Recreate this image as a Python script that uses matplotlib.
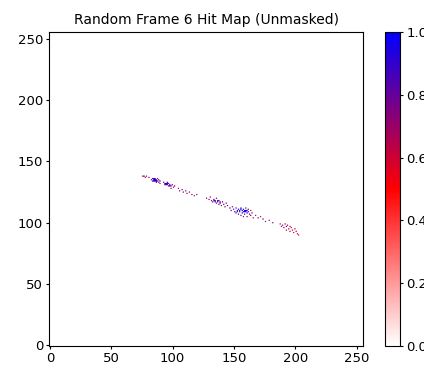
import numpy as np
import matplotlib
matplotlib.use('Agg')
import matplotlib.pyplot as plt
from matplotlib.colors import LinearSegmentedColormap

frame_id = 6
grid_size = 256

# hit pixels: column, row, normalised value
hit_x = [76, 77, 78, 79, 81,
         83, 84, 84, 85, 85, 86, 86, 87, 87, 88, 88, 89, 90, 90, 85, 86, 87, 89,
         93, 94, 94, 95, 96, 96, 97, 97, 98, 99, 99, 100, 101, 102, 95, 96, 98,
         105, 106, 108, 109, 111, 112, 114, 116, 118, 120,
         128, 130, 131, 132, 133, 134, 135, 136, 136, 137, 138, 138, 139, 140, 141, 142, 143, 144, 145,
         134, 135, 137, 139,
         147, 148, 149, 150, 151, 152, 152, 153, 154, 154, 155, 156, 156, 157, 157, 158, 158, 159, 159,
         160, 160, 161, 161, 162, 162, 163, 164, 164, 165, 166,
         153, 155, 156, 158, 159, 160, 161,
         168, 170, 172, 174, 176, 179, 182,
         188, 189, 190, 191, 192, 193, 193, 194, 195, 196, 196, 197, 198, 199, 200, 201, 202, 203]
hit_y = [138, 138, 137, 138, 137,
         135, 136, 134, 135, 136, 134, 135, 135, 133, 134, 136, 133, 134, 132, 134, 136, 134, 135,
         133, 132, 131, 132, 131, 133, 130, 132, 131, 130, 128, 131, 129, 130, 131, 132, 130,
         128, 126, 127, 125, 126, 124, 125, 123, 122, 123,
         120, 119, 121, 118, 117, 119, 118, 116, 120, 117, 118, 115, 116, 114, 117, 115, 113, 116, 114,
         118, 117, 118, 117,
         112, 110, 113, 111, 109, 112, 108, 110, 111, 107, 109, 112, 106, 110, 108, 111, 105, 109, 107,
         110, 112, 108, 105, 109, 111, 107, 110, 106, 108, 104,
         109, 110, 111, 109, 110, 109, 110,
         106, 104, 105, 103, 101, 102, 100,
         99, 97, 98, 96, 99, 97, 94, 98, 95, 97, 93, 96, 94, 92, 95, 93, 91, 90]
hit_v = [.65, .75, .7, .6, .8,
         .8, .85, .9, .95, .8, .85, 1.0, .9, .75, .85, .7, .8, .75, .65, .85, .8, .9, .75,
         .8, .85, .75, .95, .85, .75, .9, .8, .85, .75, .65, .8, .75, .7, .8, .85, .8,
         .7, .75, .8, .7, .75, .65, .75, .7, .65, .75,
         .7, .75, .65, .8, .75, .85, .9, .75, .7, .85, .95, .75, .8, .7, .75, .85, .7, .65, .75,
         .8, .85, .8, .75,
         .75, .8, .7, .85, .9, .75, .75, .95, 1.0, .8, .9, .85, .7, 1.0, .95, .9, .75, 1.0, .85,
         .95, .75, .9, .7, .85, .75, .8, .65, .75, .7, .65,
         .9, .95, 1.0, .95, 1.0, .9, .95,
         .7, .75, .65, .75, .7, .65, .75,
         .6, .7, .75, .65, .6, .75, .6, .7, .75, .6, .65, .55, .7, .6, .6, .65, .6, .55]

hit_map = np.zeros((grid_size, grid_size))
hit_map[hit_y, hit_x] = hit_v

cmap = LinearSegmentedColormap.from_list('white_red_blue', ['white', 'red', 'blue'])

fig = plt.figure(figsize=(4.24, 3.65), dpi=100)
ax = fig.add_axes([0.1156, 0.052, 0.7424, 0.86])
cax = fig.add_axes([0.908, 0.052, 0.035, 0.86])

im = ax.imshow(hit_map, cmap=cmap, origin='lower', vmin=0, vmax=1)
ax.set_title(f'Random Frame {frame_id} Hit Map (Unmasked)', fontsize=10)
ax.set_xticks([0, 50, 100, 150, 200, 250])
ax.set_yticks([0, 50, 100, 150, 200, 250])
ax.tick_params(length=2.5, pad=2, labelsize=9.5)
fig.colorbar(im, cax=cax)
cax.tick_params(length=2.5, pad=2, labelsize=9.5)

plt.savefig('out.png', dpi=100)
plt.close()
